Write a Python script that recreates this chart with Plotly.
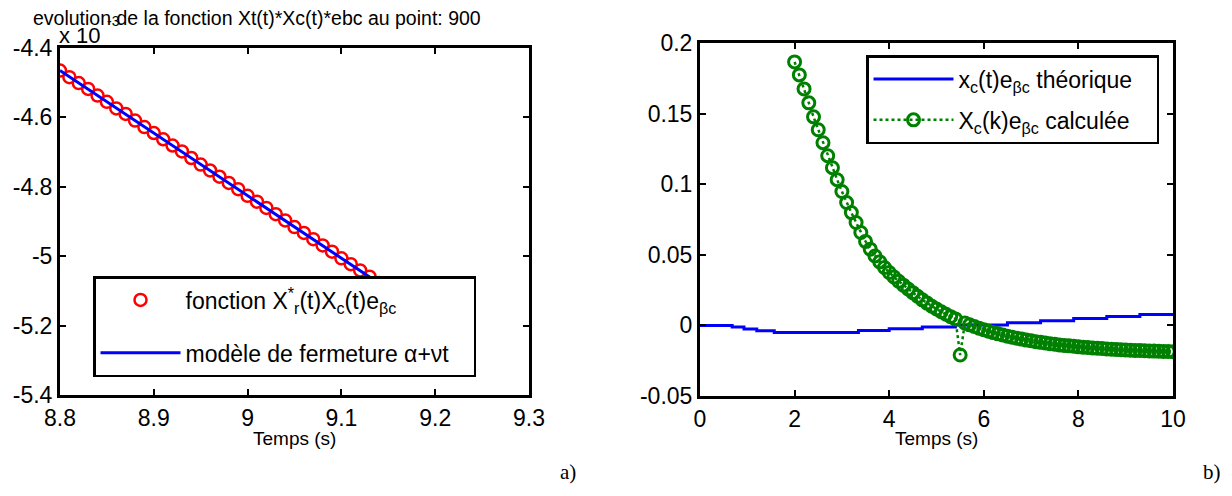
import plotly.graph_objects as go

# ---------------- data: panel a) ----------------
t_left = [8.80, 8.81, 8.82, 8.83, 8.84, 8.85, 8.86, 8.87, 8.88, 8.89,
          8.90, 8.91, 8.92, 8.93, 8.94, 8.95, 8.96, 8.97, 8.98, 8.99,
          9.00, 9.01, 9.02, 9.03, 9.04, 9.05, 9.06, 9.07, 9.08, 9.09,
          9.10, 9.11, 9.12, 9.13, 9.14, 9.15, 9.16, 9.17, 9.18, 9.19, 9.20]
fonction_vals = [-4.465, -4.484, -4.501, -4.518, -4.537, -4.555, -4.574, -4.590, -4.609, -4.628,
                 -4.645, -4.663, -4.681, -4.698, -4.717, -4.736, -4.753, -4.771, -4.789, -4.807,
                 -4.826, -4.843, -4.861, -4.879, -4.897, -4.916, -4.933, -4.951, -4.969, -4.987,
                 -5.006, -5.023, -5.041, -5.059, -5.077, -5.096, -5.113, -5.131, -5.149, -5.167, -5.186]
modele_vals = [-4.465, -4.483, -4.502, -4.519, -4.537, -4.556, -4.573, -4.591, -4.609, -4.627,
               -4.646, -4.663, -4.681, -4.699, -4.717, -4.735, -4.753, -4.771, -4.789, -4.808,
               -4.825, -4.843, -4.861, -4.880, -4.897, -4.915, -4.933, -4.951, -4.970, -4.987,
               -5.005, -5.023, -5.041, -5.060, -5.077, -5.095, -5.113, -5.131, -5.150, -5.167, -5.186]
left_xticks = [8.8, 8.9, 9.0, 9.1, 9.2, 9.3]
left_xtext = ["8.8", "8.9", "9", "9.1", "9.2", "9.3"]
left_yticks = [-4.4, -4.6, -4.8, -5.0, -5.2, -5.4]
left_ytext = ["-4.4", "-4.6", "-4.8", "-5", "-5.2", "-5.4"]

# ---------------- data: panel b) ----------------
t_theo = [0, 0.68, 0.93, 1.2, 1.57, 3.35, 4.0, 4.7, 5.4, 6.5, 7.2, 7.9, 8.6, 9.3, 10]
v_theo = [0, -0.0012, -0.0025, -0.0038, -0.005, -0.0037, -0.0024, -0.0011, 0.0003,
          0.0018, 0.0033, 0.0048, 0.0063, 0.0078, 0.0088]

t_calc = [2.0, 2.1, 2.2, 2.3, 2.4, 2.5, 2.6, 2.7, 2.8, 2.9,
          3.0, 3.1, 3.2, 3.3, 3.4, 3.5, 3.6, 3.7, 3.8, 3.9,
          4.0, 4.1, 4.2, 4.3, 4.4, 4.5, 4.6, 4.7, 4.8, 4.9,
          5.0, 5.1, 5.2, 5.3, 5.4, 5.5, 5.6, 5.7, 5.8, 5.9,
          6.0, 6.1, 6.2, 6.3, 6.4, 6.5, 6.6, 6.7, 6.8, 6.9,
          7.0, 7.1, 7.2, 7.3, 7.4, 7.5, 7.6, 7.7, 7.8, 7.9,
          8.0, 8.1, 8.2, 8.3, 8.4, 8.5, 8.6, 8.7, 8.8, 8.9,
          9.0, 9.1, 9.2, 9.3, 9.4, 9.5, 9.6, 9.7, 9.8, 9.9, 10.0]
v_calc = [0.1866, 0.1774, 0.1675, 0.1576, 0.1477, 0.1386, 0.1294, 0.1202, 0.1117, 0.1032,
          0.0948, 0.0870, 0.0799, 0.0729, 0.0658, 0.0595, 0.0540, 0.0492, 0.0450, 0.0410,
          0.0375, 0.0343, 0.0313, 0.0285, 0.0258, 0.0232, 0.0206, 0.0181, 0.0158, 0.0136,
          0.0116, 0.0097, 0.0079, 0.0062, 0.0046, -0.0210, 0.0017, 0.0004, -0.0008, -0.0020,
          -0.0031, -0.0041, -0.0051, -0.0060, -0.0068, -0.0076, -0.0084, -0.0091, -0.0097, -0.0104,
          -0.0109, -0.0115, -0.0120, -0.0125, -0.0130, -0.0134, -0.0138, -0.0142, -0.0145, -0.0148,
          -0.0152, -0.0154, -0.0157, -0.0160, -0.0162, -0.0164, -0.0167, -0.0169, -0.0171, -0.0172,
          -0.0174, -0.0176, -0.0177, -0.0178, -0.0180, -0.0181, -0.0182, -0.0183, -0.0184, -0.0185, -0.0186]
right_xticks = [0, 2, 4, 6, 8, 10]
right_xtext = ["0", "2", "4", "6", "8", "10"]
right_yticks = [0.2, 0.15, 0.1, 0.05, 0, -0.05]
right_ytext = ["0.2", "0.15", "0.1", "0.05", "0", "-0.05"]

FONT = "Liberation Sans, Arial, sans-serif"
SERIF = "Liberation Serif, Times New Roman, serif"
W, H = 1232, 496
PAD = "&nbsp;"

# pixel layout of the two panels
LX0, LX1, LY0, LY1 = 52, 521, 40, 387
RX0, RX1, RY0, RY1 = 692, 1165, 35, 388

fig = go.Figure()

# panel a)
fig.add_trace(go.Scatter(
    x=t_left, y=fonction_vals, mode="markers", xaxis="x", yaxis="y",
    name="fonction X<sup>*</sup><sub>r</sub>(t)X<sub>c</sub>(t)e<sub>βc</sub>",
    marker=dict(symbol="circle-open", size=12, color="#ff0000", line=dict(width=2.5, color="#ff0000")),
    legend="legend", legendgroup="a1"))
fig.add_trace(go.Scatter(
    x=t_left, y=modele_vals, mode="lines", xaxis="x", yaxis="y",
    name="modèle de fermeture α+νt" + PAD * 3,
    line=dict(color="#0000ff", width=3),
    legend="legend", legendgroup="a2"))

# panel b)
fig.add_trace(go.Scatter(
    x=t_theo, y=v_theo, mode="lines", xaxis="x2", yaxis="y2", line_shape="hv",
    name="x<sub>c</sub>(t)e<sub>βc</sub> théorique" + PAD * 3,
    line=dict(color="#0000ff", width=3),
    legend="legend2", legendgroup="b1"))
fig.add_trace(go.Scatter(
    x=t_calc, y=v_calc, mode="lines+markers", xaxis="x2", yaxis="y2",
    name="X<sub>c</sub>(k)e<sub>βc</sub> calculée",
    line=dict(color="#008000", width=2.5, dash="dot"),
    marker=dict(symbol="circle-open", size=12, color="#008000", line=dict(width=3, color="#008000")),
    legend="legend2", legendgroup="b2"))

axis_common = dict(
    showline=True, linecolor="black", linewidth=3, mirror="allticks",
    ticks="inside", ticklen=6, tickwidth=2, tickcolor="black",
    showgrid=False, zeroline=False, automargin=False,
    tickfont=dict(family=FONT, size=23, color="black"),
)

fig.update_layout(
    width=W, height=H,
    margin=dict(l=0, r=0, t=0, b=0),
    paper_bgcolor="white", plot_bgcolor="white",
    font=dict(family=FONT, size=22, color="black"),
    xaxis=dict(domain=[LX0 / W, LX1 / W], range=[8.8, 9.3], anchor="y",
               tickvals=left_xticks, ticktext=left_xtext, **axis_common),
    yaxis=dict(domain=[1 - LY1 / H, 1 - LY0 / H], range=[-5.4, -4.4], anchor="x",
               tickvals=left_yticks, ticktext=left_ytext, **axis_common),
    xaxis2=dict(domain=[RX0 / W, RX1 / W], range=[0, 10], anchor="y2",
                tickvals=right_xticks, ticktext=right_xtext, **axis_common),
    yaxis2=dict(domain=[1 - RY1 / H, 1 - RY0 / H], range=[-0.05, 0.2], anchor="x2",
                tickvals=right_yticks, ticktext=right_ytext, **axis_common),
    legend=dict(x=85 / W, y=1 - 268 / H, xanchor="left", yanchor="top",
                bgcolor="white", bordercolor="black", borderwidth=2.5,
                font=dict(family=FONT, size=23, color="black"),
                itemwidth=80, tracegroupgap=20, traceorder="grouped"),
    legend2=dict(x=858 / W, y=1 - 47 / H, xanchor="left", yanchor="top",
                 bgcolor="white", bordercolor="black", borderwidth=2.5,
                 font=dict(family=FONT, size=23, color="black"),
                 itemwidth=80, tracegroupgap=8, traceorder="grouped"),
    showlegend=True,
)

annotations = [
    dict(text="evolution de la fonction Xt(t)*Xc(t)*ebc au point: 900", x=23 / W, y=1 - 10 / H,
         xref="paper", yref="paper", xanchor="left", yanchor="middle", showarrow=False,
         font=dict(family=FONT, size=19.5, color="black")),
    dict(text="x 10", x=49 / W, y=1 - 28 / H, xref="paper", yref="paper",
         xanchor="left", yanchor="middle", showarrow=False,
         font=dict(family=FONT, size=22, color="black")),
    dict(text="-3", x=97 / W, y=1 - 13 / H, xref="paper", yref="paper",
         xanchor="left", yanchor="middle", showarrow=False,
         font=dict(family=FONT, size=14, color="black")),
    dict(text="Temps (s)", x=(LX0 + LX1) / 2 / W, y=1 - 430 / H, xref="paper", yref="paper",
         xanchor="center", yanchor="middle", showarrow=False,
         font=dict(family=FONT, size=19, color="black")),
    dict(text="Temps (s)", x=(RX0 + RX1) / 2 / W, y=1 - 430 / H, xref="paper", yref="paper",
         xanchor="center", yanchor="middle", showarrow=False,
         font=dict(family=FONT, size=19, color="black")),
    dict(text="a)", x=560 / W, y=1 - 464 / H, xref="paper", yref="paper",
         xanchor="center", yanchor="middle", showarrow=False,
         font=dict(family=SERIF, size=21, color="black")),
    dict(text="b)", x=1204 / W, y=1 - 464 / H, xref="paper", yref="paper",
         xanchor="center", yanchor="middle", showarrow=False,
         font=dict(family=SERIF, size=21, color="black")),
]
fig.update_layout(annotations=annotations)

fig.write_html("out.html")
